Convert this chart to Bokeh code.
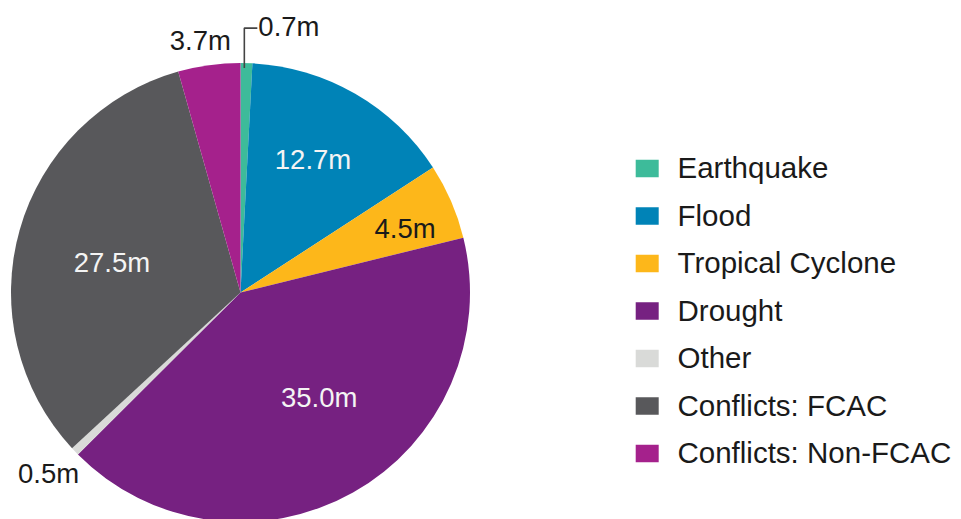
import math
from bokeh.plotting import figure
from bokeh.models import Range1d, ColumnDataSource
from bokeh.core.properties import value
from bokeh.embed import file_html
from bokeh.resources import INLINE

# ---- data ----
categories = ["Earthquake", "Flood", "Tropical Cyclone", "Drought", "Other",
              "Conflicts: FCAC", "Conflicts: Non-FCAC"]
values = [0.7, 12.7, 4.5, 35.0, 0.5, 27.5, 3.7]
labels = ["0.7m", "12.7m", "4.5m", "35.0m", "0.5m", "27.5m", "3.7m"]
colors = ["#3dbb9a", "#0083b7", "#fdb71a", "#762181", "#d9dad8", "#58585b", "#a5218c"]

# ---- label styling (placement relative to slice mid-angle) ----
label_frac = [None, 0.66, 0.77, 0.57, 1.15, 0.575, 1.11]
label_dang = [0.0, -1.4, 2.1, -7.6, 0.5, -2.6, -1.2]   # degrees, clockwise nudge
label_color = ["#1a1a1a", "#f4f4f4", "#1a1a1a", "#f4f4f4", "#1a1a1a", "#f4f4f4", "#1a1a1a"]

FONT = "Liberation Sans"
LBL_FS = 27.5
LEG_FS = 29.5

W, H = 961, 519
CX, CY, R = 240, 292, 229.5   # screen coordinates of the pie

p = figure(width=W, height=H, x_range=Range1d(0, W), y_range=Range1d(-H, 0),
           output_backend="svg", toolbar_location=None, x_axis_type=None, y_axis_type=None,
           min_border=0, min_border_left=0, min_border_right=0, min_border_top=0,
           min_border_bottom=0)
p.outline_line_color = None
p.grid.visible = False
p.background_fill_color = "white"
p.border_fill_color = "white"

total = sum(values)
starts, ends, mids = [], [], []
cum = 0.0
for v in values:
    a0 = cum / total * 360.0
    cum += v
    a1 = cum / total * 360.0
    starts.append(math.radians(90 - a0))
    ends.append(math.radians(90 - a1))
    mids.append((a0 + a1) / 2.0)

src = ColumnDataSource(dict(start=starts, end=ends, color=colors, cat=categories))
p.wedge(x=CX, y=-CY, radius=R, start_angle="start", end_angle="end", direction="clock",
        fill_color="color", line_color=None, source=src)

# ---- slice labels ----
for i, lab in enumerate(labels):
    if label_frac[i] is None:
        continue
    ang = math.radians(mids[i] + label_dang[i])
    d = label_frac[i] * R
    x = CX + d * math.sin(ang)
    yc = CY - d * math.cos(ang)
    p.text(x=[x], y=[-yc], text=[lab], text_font=value(FONT),
           text_font_size=f"{LBL_FS}px", text_color=label_color[i],
           text_align="center", text_baseline="middle")

# ---- leader for the tiny Earthquake slice ----
ang = math.radians(mids[0])
xe = CX + (R - 5) * math.sin(ang) - 2
ye = CY - (R - 5) * math.cos(ang)
ytop = ye - 40
p.line(x=[xe, xe, xe + 13], y=[-ye, -ytop, -ytop], line_color="#444444", line_width=1.6)
p.text(x=[xe + 14], y=[-(ytop - 2)], text=[labels[0]], text_font=value(FONT),
       text_font_size=f"{LBL_FS}px", text_color=label_color[0],
       text_align="left", text_baseline="middle")

# ---- legend ----
LX, LY0, LDY = 646.7, 168.0, 47.5
for i, cat in enumerate(categories):
    yy = LY0 + i * LDY
    p.rect(x=[LX], y=[-yy], width=23, height=17.5, fill_color=colors[i], line_color=None)
    p.text(x=[677], y=[-(yy - 0.7)], text=[cat], text_font=value(FONT),
           text_font_size=f"{LEG_FS}px", text_color="#1a1a1a",
           text_align="left", text_baseline="middle")

open("out.html", "w").write(file_html(p, INLINE))
